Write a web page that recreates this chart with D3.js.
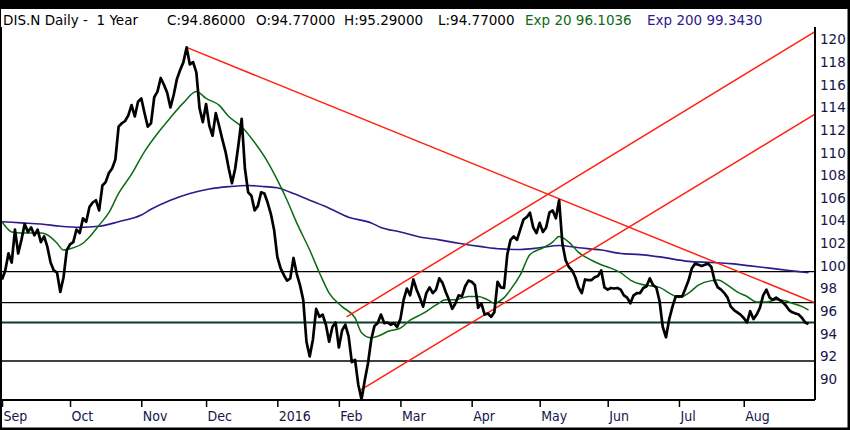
<!DOCTYPE html>
<html><head><meta charset="utf-8">
<script src="https://cdn.jsdelivr.net/npm/d3@7/dist/d3.min.js"></script>
<style>
html,body{margin:0;padding:0;background:#fff;}
svg{display:block;}
</style></head>
<body><svg id="c" width="850" height="430"></svg>
<script>
// ---- DATA ----
const monthIdx = [0, 21, 43, 63, 85, 104, 123, 145, 166, 187, 209, 229];
const monthLabels = ["Sep","Oct","Nov","Dec","2016","Feb","Mar","Apr","May","Jun","Jul","Aug"];
const priceTicks = [90,92,94,96,98,100,102,104,106,108,110,112,114,116,118,120];
// daily close, one per trading day from Sep 1 2015
const close = [
98.8,99.6,101.1,100.3,103.2,101.1,102.3,103.7,103.0,103.4,
102.7,103.2,102.1,102.6,101.7,100.3,99.6,99.4,97.7,99.0,
101.4,101.9,102.1,103.2,102.9,104.2,103.9,105.2,105.6,105.8,
104.9,107.1,107.4,108.2,108.6,109.4,112.3,112.6,112.8,113.3,
114.2,113.2,114.5,114.8,113.5,112.3,112.6,114.9,115.4,116.6,
116.0,115.3,114.0,115.1,116.5,117.3,118.0,119.3,117.8,118.0,
117.1,113.9,112.7,114.3,112.4,111.5,113.5,112.4,111.2,110.1,
108.6,107.3,108.6,110.7,113.0,108.6,106.5,106.2,104.9,105.3,
106.5,106.4,105.6,104.6,103.2,100.8,99.8,99.2,98.7,98.9,
100.7,99.3,98.3,97.0,93.3,92.0,93.5,96.2,95.5,95.7,
94.8,93.3,94.6,95.0,92.8,94.3,94.8,93.8,91.5,91.7,
89.5,88.2,89.9,91.4,93.5,94.7,94.95,95.7,94.95,95.0,
94.8,94.95,94.6,95.3,97.0,98.0,97.4,98.8,97.9,97.2,
96.4,97.6,98.1,97.6,97.9,98.9,98.5,97.7,97.0,96.2,
96.7,97.4,97.3,98.2,98.7,98.6,98.3,96.3,96.7,95.7,
95.8,95.5,95.9,98.6,98.1,98.05,101.0,102.3,102.6,102.3,
103.2,104.1,104.3,104.7,103.4,102.9,103.8,103.0,103.4,104.7,
104.9,104.2,105.8,102.0,100.5,99.9,99.6,99.0,98.1,97.6,
98.8,98.75,98.75,99.0,99.1,99.6,98.1,97.9,98.05,98.0,
98.05,97.9,97.4,97.2,96.7,97.4,97.6,97.6,98.05,98.2,
98.9,98.3,98.1,96.9,94.6,93.7,95.3,96.4,97.3,97.3,
97.3,98.0,98.75,99.8,100.2,100.1,100.0,100.1,100.2,99.9,
98.7,98.1,97.9,97.6,97.2,96.4,96.1,95.9,95.7,95.4,
95.0,96.0,95.3,95.7,96.3,97.4,97.9,97.2,97.0,97.2,
97.0,96.8,96.5,96.1,95.9,95.8,95.7,95.4,95.0,94.86
];
// Exp 20 (at trading-day indices)
const ema20Idx = [0,3,6,12,15,17,19,22,25,27,30,33,36,40,44,48,52,56,60,63,67,70,74,78,82,85,88,91,95,98,101,105,109,111,114,117,119,123,126,130,134,137,140,144,147,150,152,155,157,160,163,167,170,172,175,178,182,185,188,191,194,197,200,203,206,209,212,215,219,221,224,227,230,233,236,239,242,244,247,249];
const ema20Val = [103.9,103.0,102.9,102.9,102.55,102.0,101.4,101.6,102.0,102.55,103.6,104.7,106.4,108.1,110.1,111.7,113.1,114.4,115.4,114.8,114.2,113.2,112.3,110.9,109.2,107.6,105.8,103.8,101.4,99.4,97.6,96.4,95.4,94.1,93.65,93.9,94.2,94.5,95.2,95.8,96.55,97.0,97.0,97.3,97.3,97.0,96.7,97.2,97.9,99.2,101.0,101.6,102.1,102.6,102.1,101.2,100.5,100.1,99.8,99.4,98.75,98.4,98.25,98.1,97.6,97.2,97.6,98.3,98.7,98.75,98.3,97.7,97.3,96.8,96.8,97.0,96.9,96.7,96.4,96.1];
// Exp 200
const ema200Idx = [0,6,12,18,24,30,36,43,46,52,58,64,70,76,81,85,89,95,101,107,114,117,123,129,135,141,148,154,160,166,172,178,185,191,197,203,212,219,225,231,237,243,249];
const ema200Val = [103.9,103.8,103.7,103.5,103.4,103.5,103.9,104.5,105.0,105.8,106.4,106.8,107.0,107.1,107.0,106.9,106.5,105.8,105.1,104.3,103.8,103.4,103.0,102.55,102.3,102.0,101.7,101.5,101.45,101.6,101.8,101.6,101.4,101.1,101.0,100.8,100.4,100.3,100.2,100.0,99.8,99.6,99.4];
// trend lines: [startIdx, startVal, endIdx, endVal]
const trendDown = [57, 119.3, 251, 96.75];
const channelUpper = [106.4, 95.5, 251, 120.7];
const channelLower = [110.5, 89.0, 251, 113.4];
// horizontal support / resistance levels
const levels = [99.5, 96.75, 95.0, 91.6];

// ---- CHART ----
const svg = d3.select("#c");
const W = 850, H = 430;
const L = 2, R = 815, T = 27, B = 400;
const x = d3.scaleLinear().domain([0, 251]).range([L, R]);
const y = d3.scaleLinear().domain([90, 120]).range([379.1, 39.5]);

svg.append("rect").attr("width", W).attr("height", H).attr("fill", "#fff");
svg.append("rect").attr("x",0).attr("y",0).attr("width",W).attr("height",9).attr("fill","#000");

svg.append("defs").append("clipPath").attr("id","clip")
  .append("rect").attr("x",L).attr("y",T).attr("width",R-L).attr("height",B-T);
const g = svg.append("g").attr("clip-path","url(#clip)");

// horizontal levels
g.selectAll("line.lvl").data(levels).enter().append("line")
  .attr("x1", L).attr("x2", R)
  .attr("y1", d => y(d)).attr("y2", d => y(d))
  .attr("stroke", (d,i) => i === 2 ? "#0d3a2a" : "#000")
  .attr("stroke-width", (d,i) => i === 2 ? 2 : 1.3);

// EMA 200
const lineXY = d3.line().x(d => x(d[0])).y(d => y(d[1])).curve(d3.curveMonotoneX);
g.append("path").datum(ema200Idx.map((d,i) => [d, ema200Val[i]]))
  .attr("d", lineXY).attr("fill","none").attr("stroke","#2e1a8a").attr("stroke-width",1.6);
// EMA 20
g.append("path").datum(ema20Idx.map((d,i) => [d, ema20Val[i]]))
  .attr("d", lineXY).attr("fill","none").attr("stroke","#0b6b12").attr("stroke-width",1.5);

// trend lines
[trendDown, channelUpper, channelLower].forEach(t => {
  g.append("line")
    .attr("x1", x(t[0])).attr("y1", y(t[1]))
    .attr("x2", x(t[2])).attr("y2", y(t[3]))
    .attr("stroke", "#ff2010").attr("stroke-width", 1.5);
});

// price
g.append("path").datum(close)
  .attr("d", d3.line().x((d,i) => x(i)).y(d => y(d)))
  .attr("fill","none").attr("stroke","#000").attr("stroke-width",2.7)
  .attr("stroke-linejoin","round");

// axes
const axisColor = "#16164a";
const yAxis = svg.append("g").attr("transform", `translate(${R},0)`)
  .call(d3.axisRight(y).tickValues(priceTicks).tickSize(0).tickPadding(5).tickFormat(d3.format("d")));
yAxis.select(".domain").remove();
yAxis.selectAll("text").attr("fill", axisColor).style("font-family","DejaVu Sans, sans-serif").style("font-size","13.5px");

const xAxis = svg.append("g").attr("transform", `translate(0,${B})`)
  .call(d3.axisBottom(x).tickValues(monthIdx).tickSize(7).tickSizeOuter(0)
    .tickFormat((d,i) => monthLabels[i]));
xAxis.select(".domain").remove();
xAxis.selectAll("line").attr("stroke","#000").attr("stroke-width",1.5);
xAxis.selectAll("text").attr("fill", axisColor).attr("text-anchor","start").attr("dx", 1).attr("y", 11)
  .style("font-family","DejaVu Sans Condensed, DejaVu Sans, sans-serif").style("font-size","14px");

// plot frame
svg.append("line").attr("x1",L).attr("x2",R).attr("y1",B).attr("y2",B).attr("stroke","#000").attr("stroke-width",2);
svg.append("line").attr("x1",R).attr("x2",R).attr("y1",T).attr("y2",B).attr("stroke","#000").attr("stroke-width",2);
svg.append("line").attr("x1",1).attr("x2",1).attr("y1",T).attr("y2",H).attr("stroke","#000").attr("stroke-width",2);
// outer frame
svg.append("rect").attr("x",0.5).attr("y",0.5).attr("width",W-1).attr("height",H-1)
  .attr("fill","none").attr("stroke","#000").attr("stroke-width",1);
svg.append("line").attr("x1",0).attr("x2",W).attr("y1",H-1).attr("y2",H-1).attr("stroke","#000").attr("stroke-width",3);
svg.append("line").attr("x1",W-1).attr("x2",W-1).attr("y1",0).attr("y2",H).attr("stroke","#000").attr("stroke-width",3);

// header
const hdr = svg.append("text").attr("y", 25)
  .style("font-family","DejaVu Sans, sans-serif").style("font-size","13.5px");
const parts = [
  {t:"DIS.N Daily -  1 Year", x:3, c:"#000"},
  {t:"C:94.86000", x:167, c:"#000"},
  {t:"O:94.77000", x:256, c:"#000"},
  {t:"H:95.29000", x:344, c:"#000"},
  {t:"L:94.77000", x:438, c:"#000"},
  {t:"Exp 20 96.1036", x:525, c:"#0b6b12"},
  {t:"Exp 200 99.3430", x:647, c:"#2e1a8a"}
];
parts.forEach(p => hdr.append("tspan").attr("x", p.x).attr("fill", p.c).attr("xml:space","preserve").text(p.t));
</script></body></html>
